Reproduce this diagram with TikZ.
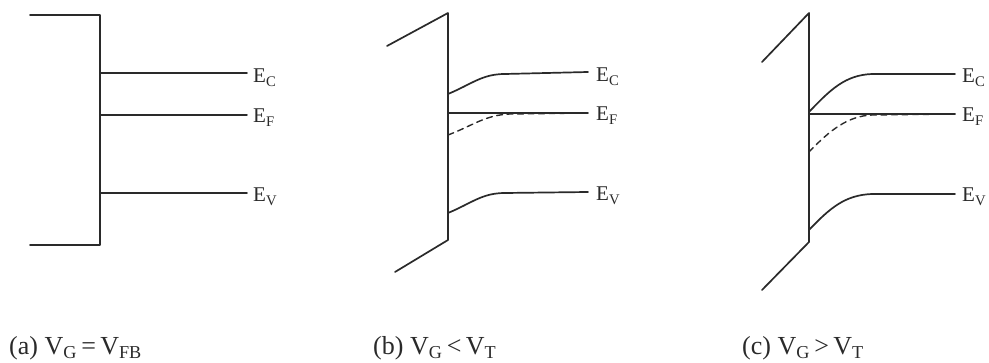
\documentclass[tikz,border=0pt]{standalone}
\usepackage{fontspec}
\setmainfont{Liberation Serif}
\usetikzlibrary{positioning}
\definecolor{inkgray}{HTML}{2A2A2A}

\begin{document}
\begin{tikzpicture}[
  x=1pt, y=-1pt,
  band/.style={draw=inkgray, line width=1.7pt, line cap=round, line join=round},
  fermi/.style={band, line width=1.5pt},
  shifted/.style={band, dashed, line width=1.4pt, dash pattern=on 6pt off 4.5pt},
  level/.style={anchor=base west, inner sep=0pt, text=inkgray,
    font=\fontsize{21}{24}\selectfont},
  caption/.style={anchor=base west, inner sep=0pt, text=inkgray,
    font=\fontsize{26}{30}\selectfont},
]
\useasboundingbox (0,0) rectangle (989,363);

% (a) flat bands, V_G = V_FB
\draw[band] (30,15) -- (100,15) -- (100,245) -- (30,245);
\draw[band] (100,73) -- (247,73);
\draw[fermi] (100,115) -- (247,115);
\draw[band] (100,193) -- (247,193);
\node[level] (ecA) at (253,83) {E\textsubscript{C}};
\node[level] (efA) at (253,123) {E\textsubscript{F}};
\node[level] (evA) at (253,202) {E\textsubscript{V}};

% (b) depletion, V_G < V_T
\draw[band] (387,46) -- (448,13) -- (448,240) -- (395,272);
\draw[band] (448,94) .. controls (472,84) and (482,74) .. (505,74) -- (588,72);
\draw[fermi] (448,113) -- (588,113);
\draw[shifted] (448,135) .. controls (472,126) and (485,115) .. (510,114) -- (588,113);
\draw[band] (448,213) .. controls (472,203) and (482,193) .. (505,193) -- (588,192);
\node[level] (ecB) at (596,82) {E\textsubscript{C}};
\node[level] (efB) at (596,121) {E\textsubscript{F}};
\node[level] (evB) at (596,201) {E\textsubscript{V}};

% (c) inversion, V_G > V_T
\draw[band] (762,62) -- (809,13) -- (809,242) -- (762,290);
\draw[band] (809,112) .. controls (830,90) and (845,75) .. (872,74) -- (955,74);
\draw[fermi] (809,114) -- (955,114);
\draw[shifted] (809,152) .. controls (830,130) and (848,116) .. (872,115) -- (955,114);
\draw[band] (809,230) .. controls (830,208) and (845,195) .. (872,194) -- (955,194);
\node[level] (ecC) at (962,83) {E\textsubscript{C}};
\node[level] (efC) at (962,122) {E\textsubscript{F}};
\node[level] (evC) at (962,202) {E\textsubscript{V}};

% captions
\node[caption] (capA) at (9,355) {(a) V\textsubscript{G}\,=\,V\textsubscript{FB}};
\node[caption] (capB) at (373,355) {(b) V\textsubscript{G}\,<\,V\textsubscript{T}};
\node[caption] (capC) at (742,355) {(c) V\textsubscript{G}\,>\,V\textsubscript{T}};

\end{tikzpicture}
\end{document}
